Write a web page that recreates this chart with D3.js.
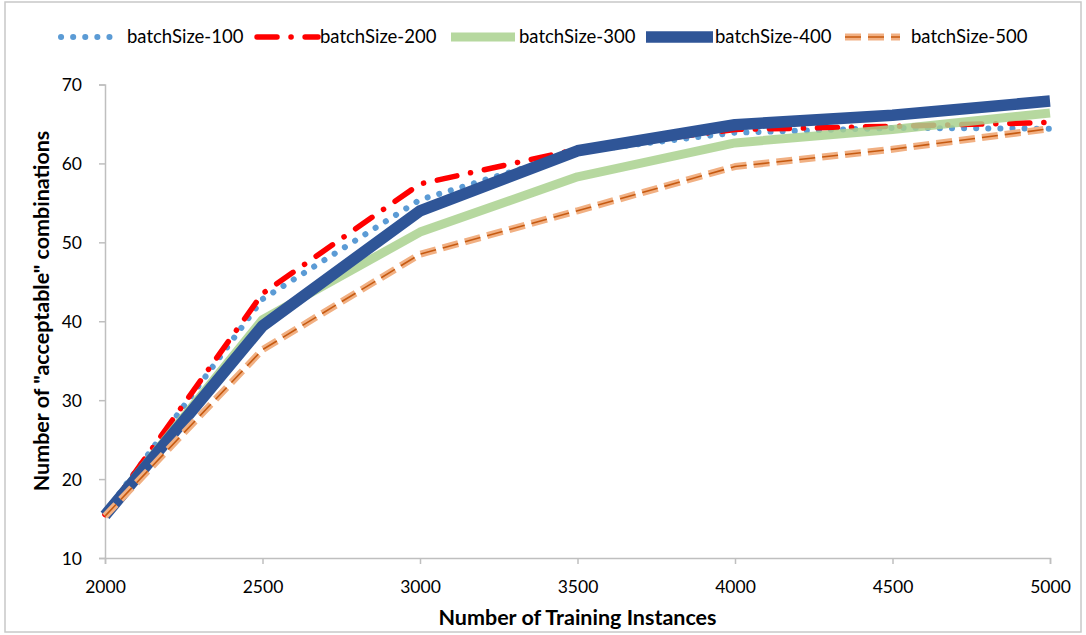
<!DOCTYPE html>
<html>
<head>
<meta charset="utf-8">
<script src="https://cdnjs.cloudflare.com/ajax/libs/d3/7.8.5/d3.min.js"></script>
<style>
  body { margin: 0; background: #fff; }
  text { font-family: Lato, "Open Sans", sans-serif; fill: #000; }
</style>
</head>
<body>
<div class="chart"></div>
<script>
var instances = [2000, 2500, 3000, 3500, 4000, 4500, 5000];
var xTicks = [2000, 2500, 3000, 3500, 4000, 4500, 5000];
var yTicks = [10, 20, 30, 40, 50, 60, 70];
var seriesNames = ["batchSize-100", "batchSize-200", "batchSize-300", "batchSize-400", "batchSize-500"];
var batch100 = [15.7, 42.8, 55.4, 61.5, 63.9, 64.5, 64.4];
var batch200 = [15.5, 43.5, 57.4, 61.8, 64.3, 64.7, 65.2];
var batch300 = [15.5, 40.2, 51.3, 58.3, 62.6, 64.3, 66.4];
var batch400 = [15.4, 39.4, 54.0, 61.6, 64.9, 66.1, 67.9];
var batch500 = [15.3, 36.4, 48.5, 54.0, 59.6, 61.8, 64.4];

(function() {
    var width = 1086,
        height = 635,
        left = 105,
        right = 1050,
        top = 84.5,
        bottom = 558,
        axisColor = "#bfbfbf",
        i;

    var allValues = [batch100, batch200, batch300, batch400, batch500];

    // one style per series, the compound orange line has two strokes
    var styles = [
        [{color: "#5b9bd5", w: 6, dash: "0.1 12", cap: "round"}],
        [{color: "#ff0000", w: 5.5, dash: "20 14 0.1 14", cap: "round"}],
        [{color: "#a9d18e", w: 9, dash: null, cap: "butt", opacity: 0.85}],
        [{color: "#2f5597", w: 11.5, dash: null, cap: "butt"}],
        [{color: "#f1b083", w: 7, dash: "16 7", cap: "butt"},
         {color: "#c65a11", w: 1.6, dash: "16 7", cap: "butt"}]
    ];

    var svg = d3.select(".chart").append("svg")
            .attr("width", width)
            .attr("height", height);

    // outer border
    svg.append("rect")
        .attr("x", 5)
        .attr("y", 2)
        .attr("width", 1076)
        .attr("height", 630)
        .style("fill", "none")
        .style("stroke", "#c8c8c8")
        .style("stroke-width", 1.5);

    var x = d3.scaleLinear().domain([2000, 5000]).range([left, right]);
    var y = d3.scaleLinear().domain([10, 70]).range([bottom, top]);

    var xAxis = svg.append("g")
        .attr("transform", "translate(0," + bottom + ")")
        .call(d3.axisBottom(x).tickValues(xTicks).tickSize(6).tickPadding(17).tickFormat(d3.format("d")));
    var yAxis = svg.append("g")
        .attr("transform", "translate(" + left + ",0)")
        .call(d3.axisLeft(y).tickValues(yTicks).tickSize(6).tickPadding(17));

    [xAxis, yAxis].forEach(function(ax) {
        ax.select(".domain").style("stroke", axisColor).style("stroke-width", 1.5);
        ax.selectAll(".tick line").style("stroke", axisColor).style("stroke-width", 1.5);
        ax.selectAll(".tick text")
            .style("font-family", "Lato, 'Open Sans', sans-serif")
            .style("font-size", "17.5px")
            .style("fill", "#000");
    });
    yAxis.selectAll(".tick text").attr("dy", "0.36em");

    var line = d3.line()
        .x(function(d, i) { return x(instances[i]); })
        .y(function(d) { return y(d); });

    function applyStyle(sel, s) {
        sel.style("fill", "none")
            .style("stroke", s.color)
            .style("stroke-width", s.w)
            .style("stroke-linecap", s.cap)
            .style("stroke-linejoin", "round")
            .style("stroke-dasharray", s.dash)
            .style("opacity", s.opacity || 1);
    }

    for (i = 0; i < allValues.length; i++) {
        styles[i].forEach(function(s) {
            svg.append("path")
                .datum(allValues[i])
                .attr("d", line)
                .call(applyStyle, s);
        });
    }

    // legend
    var legendY = 37;
    var legendPos = [[61, 118, 127], [257, 318, 320], [451, 515, 519], [646, 713, 715], [845, 900, 911]];
    for (i = 0; i < seriesNames.length; i++) {
        styles[i].forEach(function(s) {
            svg.append("line")
                .attr("x1", legendPos[i][0])
                .attr("x2", legendPos[i][1])
                .attr("y1", legendY)
                .attr("y2", legendY)
                .call(applyStyle, s);
        });
        svg.append("text")
            .attr("x", legendPos[i][2])
            .attr("y", legendY)
            .attr("dy", "0.35em")
            .style("font-size", "18.5px")
            .text(seriesNames[i]);
    }

    // axis titles
    svg.append("text")
        .attr("x", (left + right) / 2)
        .attr("y", 625)
        .attr("text-anchor", "middle")
        .style("font-size", "21.5px")
        .style("font-weight", "bold")
        .text("Number of Training Instances");

    svg.append("text")
        .attr("transform", "translate(49," + 311 + ") rotate(-90)")
        .attr("text-anchor", "middle")
        .style("font-size", "21.5px")
        .style("font-weight", "bold")
        .text('Number of "acceptable" combinations');
})();
</script>
</body>
</html>
